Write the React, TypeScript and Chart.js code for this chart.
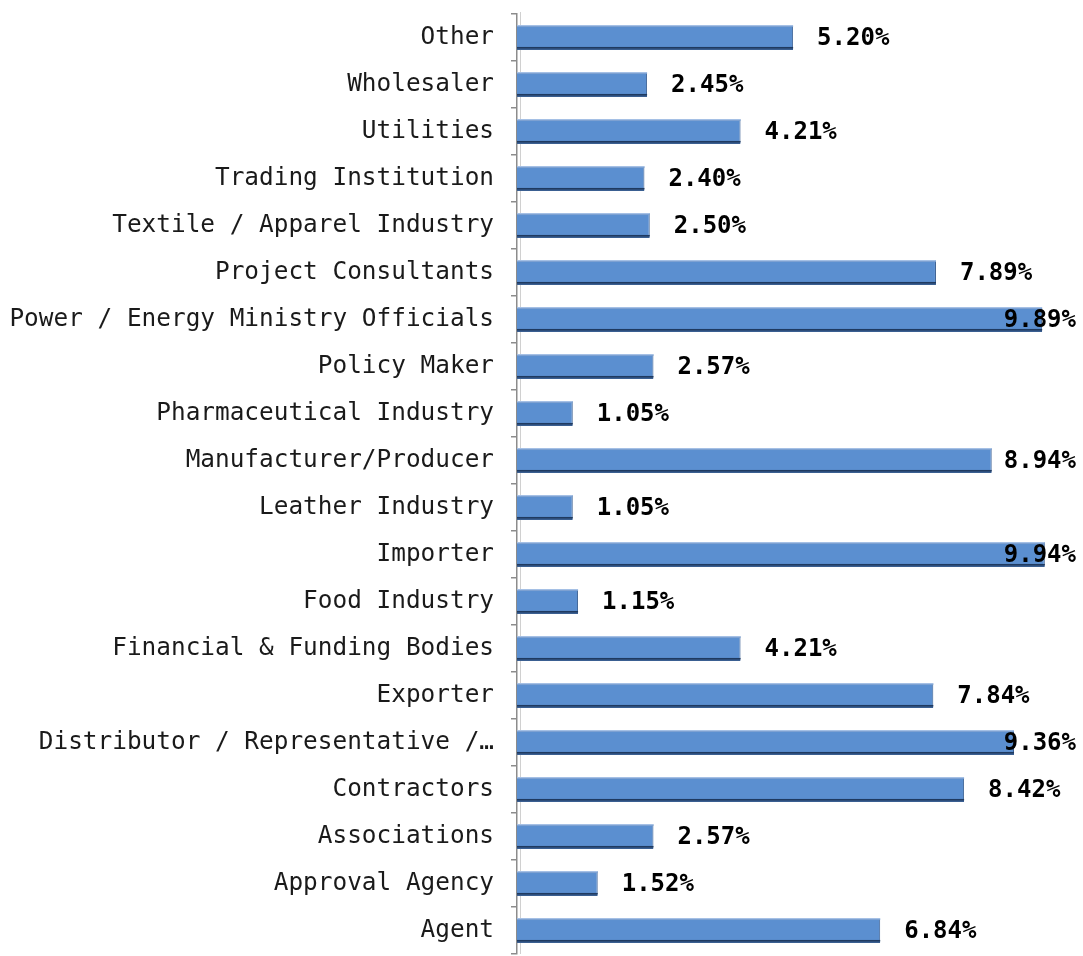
import React, { useEffect, useRef } from "react";
import { Chart, registerables } from "chart.js";

Chart.register(...registerables);

const categories = [
  "Other",
  "Wholesaler",
  "Utilities",
  "Trading Institution",
  "Textile / Apparel Industry",
  "Project Consultants",
  "Power / Energy Ministry Officials",
  "Policy Maker",
  "Pharmaceutical Industry",
  "Manufacturer/Producer",
  "Leather Industry",
  "Importer",
  "Food Industry",
  "Financial & Funding Bodies",
  "Exporter",
  "Distributor / Representative /…",
  "Contractors",
  "Associations",
  "Approval Agency",
  "Agent",
];

const shares = [
  5.2, 2.45, 4.21, 2.4, 2.5, 7.89, 9.89, 2.57, 1.05, 8.94, 1.05, 9.94, 1.15,
  4.21, 7.84, 9.36, 8.42, 2.57, 1.52, 6.84,
];

const FONT = "'DejaVu Sans Mono', 'Liberation Mono', monospace";

const barDecor = {
  id: "barDecor",
  beforeDatasetsDraw(chart: any) {
    const { ctx, chartArea } = chart;
    ctx.save();
    ctx.strokeStyle = "#d0d0d0";
    ctx.lineWidth = 1;
    ctx.beginPath();
    ctx.moveTo(chartArea.left + 3.5, chartArea.top - 2);
    ctx.lineTo(chartArea.left + 3.5, chartArea.bottom);
    ctx.stroke();
    ctx.restore();
  },
  afterDatasetsDraw(chart: any) {
    const { ctx } = chart;
    const meta = chart.getDatasetMeta(0);
    ctx.save();
    meta.data.forEach((bar: any, i: number) => {
      const p = bar.getProps(["x", "y", "base", "height"], true);
      const top = p.y - p.height / 2;
      const bottom = p.y + p.height / 2;
      ctx.fillStyle = "#a9c3e6";
      ctx.fillRect(p.base, top, p.x - p.base, 1);
      ctx.fillStyle = "#7fa3d3";
      ctx.fillRect(p.base, top + 1, p.x - p.base, 1);
      ctx.fillStyle = "#1f3a60";
      ctx.fillRect(p.base, bottom - 3, p.x - p.base, 1.5);
      const txt = shares[i].toFixed(2) + "%";
      ctx.font = "bold 24px " + FONT;
      ctx.fillStyle = "#000";
      ctx.textBaseline = "middle";
      ctx.textAlign = "left";
      const w = ctx.measureText(txt).width;
      let x = p.x + 24;
      if (x + w > 1076) x = 1076 - w;
      ctx.fillText(txt, x, p.y + 1);
    });
    ctx.restore();
  },
};

export default function App() {
  const ref = useRef<HTMLCanvasElement | null>(null);

  useEffect(() => {
    if (!ref.current) return;
    const chart = new Chart(ref.current, {
      type: "bar",
      data: {
        labels: categories,
        datasets: [
          {
            data: shares,
            backgroundColor: "#5b8fd0",
            borderColor: "#3a5f91",
            borderWidth: { top: 0, left: 0, right: 1, bottom: 3 } as any,
            borderSkipped: false,
            categoryPercentage: 1,
            barPercentage: 0.53,
          },
        ],
      },
      options: {
        indexAxis: "y",
        animation: false,
        responsive: true,
        maintainAspectRatio: false,
        layout: { padding: { top: 14, bottom: 2, left: 0, right: 35 } },
        plugins: {
          legend: { display: false },
          tooltip: { enabled: false },
        },
        scales: {
          x: {
            display: false,
            min: 0,
            max: 10,
          },
          y: {
            afterFit(scale: any) {
              scale.width = 517;
              scale.paddingTop = 0;
              scale.paddingBottom = 0;
            },
            grid: {
              display: true,
              drawOnChartArea: false,
              drawTicks: true,
              tickLength: 6,
              offset: true,
              color: "#8c8c8c",
              lineWidth: 1.5,
            },
            border: { display: true, color: "#8c8c8c", width: 1.5 },
            ticks: {
              padding: 17,
              color: "#1a1a1a",
              font: { family: FONT, size: 24.4 },
              autoSkip: false,
            },
          },
        },
      },
      plugins: [barDecor],
    });
    return () => chart.destroy();
  }, []);

  return (
    <div style={{ position: "fixed", left: 0, top: 0, width: 1083, height: 956, background: "#fff" }}>
      <canvas ref={ref} />
    </div>
  );
}
